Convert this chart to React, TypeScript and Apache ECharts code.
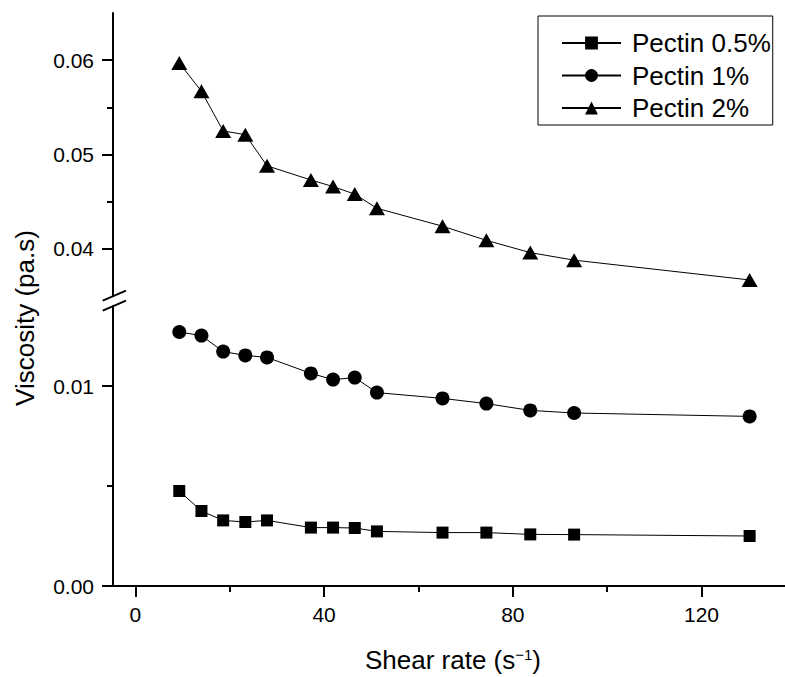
import React, { useEffect, useRef } from 'react';
import * as echarts from 'echarts';

const shearRate = [9.3, 14, 18.6, 23.3, 27.9, 37.2, 41.9, 46.5, 51.2, 65.1, 74.4, 83.7, 93, 130.2];
const pectin05 = [0.00475, 0.00375, 0.00328, 0.0032, 0.00328, 0.00292, 0.00292, 0.0029, 0.00273, 0.00267, 0.00267, 0.00258, 0.00257, 0.0025];
const pectin1 = [0.0127, 0.01252, 0.01172, 0.01153, 0.01143, 0.01063, 0.01032, 0.01042, 0.00967, 0.00938, 0.00912, 0.00878, 0.00865, 0.00848];
const pectin2 = [0.0597, 0.0567, 0.0525, 0.0521, 0.0488, 0.0473, 0.0466, 0.0458, 0.0443, 0.0424, 0.0409, 0.0396, 0.0388, 0.0367];

const seriesNames = ['Pectin 0.5%', 'Pectin 1%', 'Pectin 2%'];
const xMajorTicks = [0, 40, 80, 120];
const xMinorTicks = [20, 60, 100];
const upperMajorTicks = [0.04, 0.05, 0.06];
const upperMinorTicks = [0.045, 0.055];
const lowerMajorTicks = [0, 0.01];
const lowerMinorTicks = [0.005];

const X_MIN = -4.75;
const X_MAX = 137.7;
const UPPER_MIN = 0.035;
const UPPER_MAX = 0.065;
const LOWER_MIN = 0;
const LOWER_MAX = 0.014;

const FONT = '"Liberation Sans", Arial, Helvetica, sans-serif';

export default function App() {
  const ref = useRef<HTMLDivElement>(null);

  useEffect(() => {
    document.body.style.margin = '0';
    if (!ref.current) return;
    const chart = echarts.init(ref.current, undefined, { renderer: 'svg' });

    const gridUpper = { left: 113, top: 13, width: 672, height: 283 };
    const gridLower = { left: 113, top: 306, width: 672, height: 280 };

    const lineW = 2;
    const hiddenX = (gi: number) => ({
      type: 'value', gridIndex: gi, min: X_MIN, max: X_MAX, show: false,
    });

    const option: any = {
      animation: false,
      backgroundColor: '#fff',
      textStyle: { fontFamily: FONT },
      grid: [
        { ...gridUpper, containLabel: false },
        { ...gridLower, containLabel: false },
        { ...gridLower, containLabel: false },
        { ...gridUpper, containLabel: false },
      ],
      xAxis: [
        hiddenX(0),
        {
          type: 'value', gridIndex: 1, min: X_MIN, max: X_MAX,
          axisLine: { show: true, onZero: false, lineStyle: { color: '#000', width: lineW } },
          axisTick: { show: true, customValues: xMajorTicks, length: 11, lineStyle: { color: '#000', width: lineW } },
          axisLabel: {
            show: true, customValues: xMajorTicks, fontSize: 21, color: '#000', margin: 18, fontFamily: FONT,
            formatter: (v: number) => String(Math.round(v)),
          },
          splitLine: { show: false },
        },
        {
          type: 'value', gridIndex: 2, min: X_MIN, max: X_MAX,
          axisLine: { show: false, onZero: false },
          axisTick: { show: true, customValues: xMinorTicks, length: 6, lineStyle: { color: '#000', width: lineW } },
          axisLabel: { show: false },
          splitLine: { show: false },
        },
        hiddenX(3),
      ],
      yAxis: [
        {
          type: 'value', gridIndex: 0, min: UPPER_MIN, max: UPPER_MAX,
          axisLine: { show: true, onZero: false, lineStyle: { color: '#000', width: lineW } },
          axisTick: { show: true, customValues: upperMajorTicks, length: 11, lineStyle: { color: '#000', width: lineW } },
          axisLabel: {
            show: true, customValues: upperMajorTicks, fontSize: 21, color: '#000', margin: 19, fontFamily: FONT,
            formatter: (v: number) => v.toFixed(2),
          },
          splitLine: { show: false },
        },
        {
          type: 'value', gridIndex: 1, min: LOWER_MIN, max: LOWER_MAX,
          axisLine: { show: true, onZero: false, lineStyle: { color: '#000', width: lineW } },
          axisTick: { show: true, customValues: lowerMajorTicks, length: 11, lineStyle: { color: '#000', width: lineW } },
          axisLabel: {
            show: true, customValues: lowerMajorTicks, fontSize: 21, color: '#000', margin: 19, fontFamily: FONT,
            formatter: (v: number) => v.toFixed(2),
          },
          splitLine: { show: false },
        },
        {
          type: 'value', gridIndex: 2, min: LOWER_MIN, max: LOWER_MAX,
          axisLine: { show: false, onZero: false },
          axisTick: { show: true, customValues: lowerMinorTicks, length: 6, lineStyle: { color: '#000', width: lineW } },
          axisLabel: { show: false },
          splitLine: { show: false },
        },
        {
          type: 'value', gridIndex: 3, min: UPPER_MIN, max: UPPER_MAX,
          axisLine: { show: false, onZero: false },
          axisTick: { show: true, customValues: upperMinorTicks, length: 6, lineStyle: { color: '#000', width: lineW } },
          axisLabel: { show: false },
          splitLine: { show: false },
        },
      ],
      legend: {
        data: seriesNames,
        orient: 'vertical',
        left: 538,
        top: 16,
        padding: [14, 2, 4, 23],
        itemWidth: 59,
        itemHeight: 16,
        itemGap: 6.5,
        borderColor: '#000',
        borderWidth: 1,
        borderRadius: 0,
        backgroundColor: '#fff',
        selectedMode: false,
        textStyle: { fontSize: 26, color: '#000', fontFamily: FONT, padding: [0, 0, 0, 6] },
      },
      series: [
        {
          name: seriesNames[0], type: 'line', xAxisIndex: 1, yAxisIndex: 1,
          data: shearRate.map((x, i) => [x, pectin05[i]]),
          symbol: 'rect', symbolSize: 12, clip: false,
          lineStyle: { color: '#000', width: 1 }, itemStyle: { color: '#000' },
        },
        {
          name: seriesNames[1], type: 'line', xAxisIndex: 1, yAxisIndex: 1,
          data: shearRate.map((x, i) => [x, pectin1[i]]),
          symbol: 'circle', symbolSize: 14, clip: false,
          lineStyle: { color: '#000', width: 1 }, itemStyle: { color: '#000' },
        },
        {
          name: seriesNames[2], type: 'line', xAxisIndex: 0, yAxisIndex: 0,
          data: shearRate.map((x, i) => [x, pectin2[i]]),
          symbol: 'triangle', symbolSize: [16, 14], clip: false,
          lineStyle: { color: '#000', width: 1 }, itemStyle: { color: '#000' },
        },
      ],
      graphic: [
        { type: 'line', shape: { x1: 102.7, y1: 300.7, x2: 126, y2: 290.7 }, style: { stroke: '#000', lineWidth: 2 } },
        { type: 'line', shape: { x1: 102.7, y1: 310.7, x2: 126, y2: 300.7 }, style: { stroke: '#000', lineWidth: 2 } },
        {
          type: 'text', x: 25, y: 318, rotation: Math.PI / 2,
          style: {
            text: 'Viscosity (pa.s)', fontSize: 26, fontFamily: FONT, fill: '#000',
            align: 'center', verticalAlign: 'middle', textAlign: 'center', textVerticalAlign: 'middle',
          },
        },
        {
          type: 'text', x: 453, y: 660,
          style: {
            text: 'Shear rate (s{sup|\u22121})', fontSize: 26, fontFamily: FONT, fill: '#000',
            align: 'center', verticalAlign: 'middle', textAlign: 'center', textVerticalAlign: 'middle',
            rich: { sup: { fontSize: 15, fontFamily: FONT, fill: '#000', verticalAlign: 'top' } },
          },
        },
      ],
    };

    chart.setOption(option);
    return () => chart.dispose();
  }, []);

  return <div ref={ref} style={{ width: 785, height: 677 }} />;
}
